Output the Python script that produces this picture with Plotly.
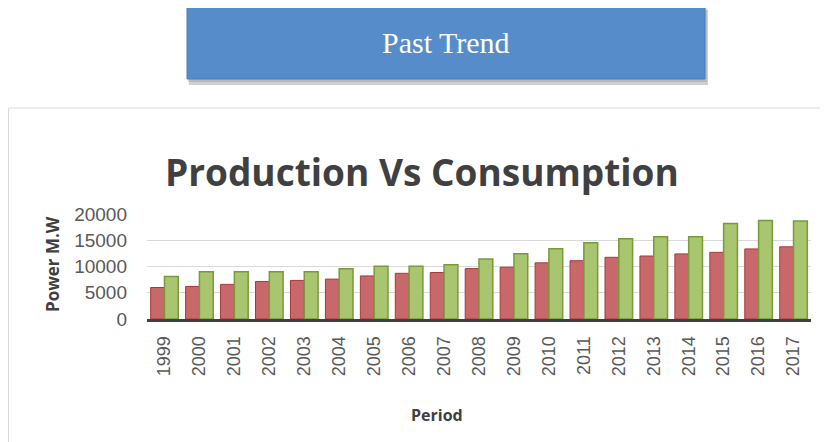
import plotly.graph_objects as go

years = [str(y) for y in range(1999, 2018)]
production = [6000, 6200, 6600, 7150, 7350, 7600, 8200, 8700, 8850, 9600, 9870,
              10700, 11100, 11750, 12000, 12400, 12700, 13350, 13750]
consumption = [8100, 9000, 9000, 9000, 9000, 9550, 10070, 10070, 10320, 11420, 12450,
               13360, 14520, 15300, 15680, 15680, 18200, 18780, 18650]
y_ticks = [0, 5000, 10000, 15000, 20000]

# the page body has an 8px margin; figure covers page 8..828 x 8..442
OFF = 8
W, H = 820, 434
def px(x):
    return (x - OFF) / W
def py(y):
    return 1 - (y - OFF) / H

fig = go.Figure()
fig.add_trace(go.Bar(x=years, y=production, name="Production",
                     marker=dict(color="#C9686A", line=dict(color="#A33B3A", width=1))))
fig.add_trace(go.Bar(x=years, y=consumption, name="Consumption",
                     marker=dict(color="#A9C56F", line=dict(color="#789A3C", width=1.5))))

shapes = [
    # chart frame
    dict(type="rect", xref="paper", yref="paper", x0=px(8.5), x1=px(860), y0=py(108), y1=py(480),
         line=dict(color="#D9D9D9", width=1), fillcolor="rgba(0,0,0,0)", layer="below"),
    # shadow of the box
    dict(type="rect", xref="paper", yref="paper", x0=px(189), x1=px(708), y0=py(10), y1=py(85),
         line=dict(width=0), fillcolor="rgba(120,120,120,0.35)"),
    dict(type="rect", xref="paper", yref="paper", x0=px(188), x1=px(707), y0=py(8), y1=py(82),
         line=dict(width=0), fillcolor="rgba(120,120,120,0.25)"),
    # blue box
    dict(type="rect", xref="paper", yref="paper", x0=px(187), x1=px(705), y0=py(6), y1=py(79),
         line=dict(color="#4A7EBB", width=1), fillcolor="#568CCA"),
]

annotations = [
    dict(text="Past Trend", xref="paper", yref="paper", x=px(446), y=py(42),
         showarrow=False, font=dict(family="Liberation Serif", size=30, color="white"),
         xanchor="center", yanchor="middle"),
    dict(text="<b>Production Vs Consumption</b>", xref="paper", yref="paper", x=px(422), y=py(171),
         showarrow=False, font=dict(family="Open Sans", size=37, color="#404040"),
         xanchor="center", yanchor="middle"),
    dict(text="<b>Power M.W</b>", xref="paper", yref="paper", x=px(52), y=py(264),
         showarrow=False, textangle=-90, font=dict(family="Open Sans", size=17, color="#404040"),
         xanchor="center", yanchor="middle"),
    dict(text="<b>Period</b>", xref="paper", yref="paper", x=px(437), y=py(415),
         showarrow=False, font=dict(family="Open Sans", size=16, color="#404040"),
         xanchor="center", yanchor="middle"),
]

fig.update_layout(
    width=W, height=H,
    margin=dict(l=0, r=0, t=0, b=0),
    paper_bgcolor="white", plot_bgcolor="white",
    barmode="group", bargap=0.21, bargroupgap=0,
    showlegend=False,
    shapes=shapes, annotations=annotations,
    font=dict(family="Liberation Sans", color="#595959"),
    xaxis=dict(domain=[px(147), px(811)], tickangle=-90, showline=True, automargin=False,
               linecolor="#404040", linewidth=3, ticks="", ticklabelstandoff=7,
               tickfont=dict(size=18, color="#595959")),
    yaxis=dict(domain=[py(319), py(214)], range=[0, 20000], tickvals=y_ticks, tickformat="d",
               automargin=False,
               gridcolor="#D9D9D9", gridwidth=1, zeroline=False, showline=False,
               ticklabelstandoff=19, tickfont=dict(size=19, color="#595959")),
)

fig.write_html("out.html")
